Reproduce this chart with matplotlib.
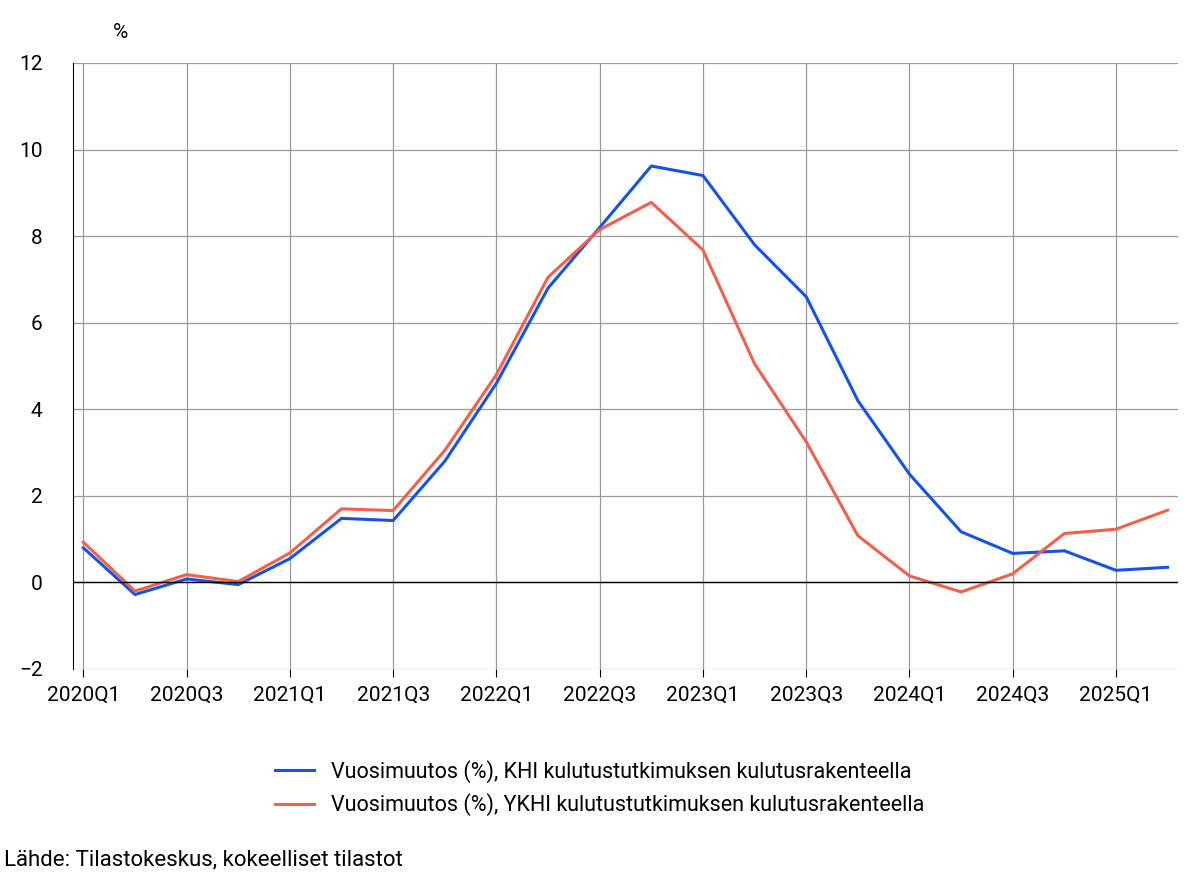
import matplotlib
matplotlib.use("Agg")
import matplotlib.pyplot as plt

plt.rcParams["font.family"] = "Roboto"

quarters = [f"{y}Q{q}" for y in range(2020, 2026) for q in range(1, 5)][:22]
khi = [0.8, -0.28, 0.08, -0.05, 0.55, 1.48, 1.43, 2.8, 4.6, 6.8, 8.2, 9.62,
       9.4, 7.8, 6.6, 4.2, 2.5, 1.17, 0.67, 0.73, 0.28, 0.35]
ykhi = [0.93, -0.2, 0.18, 0.02, 0.68, 1.7, 1.66, 3.05, 4.8, 7.05, 8.15, 8.78,
        7.68, 5.05, 3.25, 1.08, 0.15, -0.22, 0.2, 1.13, 1.23, 1.67]
labels = ["Vuosimuutos (%), KHI kulutustutkimuksen kulutusrakenteella",
          "Vuosimuutos (%), YKHI kulutustutkimuksen kulutusrakenteella"]

fig = plt.figure(figsize=(12, 8.85), dpi=100)
ax = fig.add_axes([73/1200, 1-669/885, 1105/1200, 606/885])
x = list(range(len(quarters)))
ax.plot(x, khi, color="#1453e6", lw=2.2, label=labels[0])
ax.plot(x, ykhi, color="#f0604a", lw=2.2, label=labels[1])
ax.set_xlim(-0.2, 21.2)
ax.set_ylim(-2, 12)
ax.set_yticks(range(-2, 13, 2))
ax.set_yticklabels(["\u22122"] + [str(v) for v in range(0, 13, 2)])
ax.set_xticks(x[::2])
ax.set_xticklabels(quarters[::2])
ax.grid(True, color="#999999", lw=0.9)
ax.set_axisbelow(True)
ax.axhline(0, color="black", lw=1)
for s in ["top", "right", "bottom"]:
    ax.spines[s].set_visible(False)
ax.spines["left"].set_color("black")
ax.tick_params(axis="both", labelsize=15, length=6, color="black")
ax.tick_params(axis="y", length=0, pad=22)
ax.tick_params(axis="x", pad=6)
fig.text(120/1200, 1-32/885, "%", fontsize=15, ha="center", va="center")
fig.legend(loc="center", bbox_to_anchor=(0.5, 1-788/885), frameon=False,
           fontsize=15.5, handlelength=1.8, labelspacing=0.5)
fig.text(4/1200, 1-860/885, "Lähde: Tilastokeskus, kokeelliset tilastot",
         fontsize=16, va="center")
fig.savefig("out.png", dpi=100)
